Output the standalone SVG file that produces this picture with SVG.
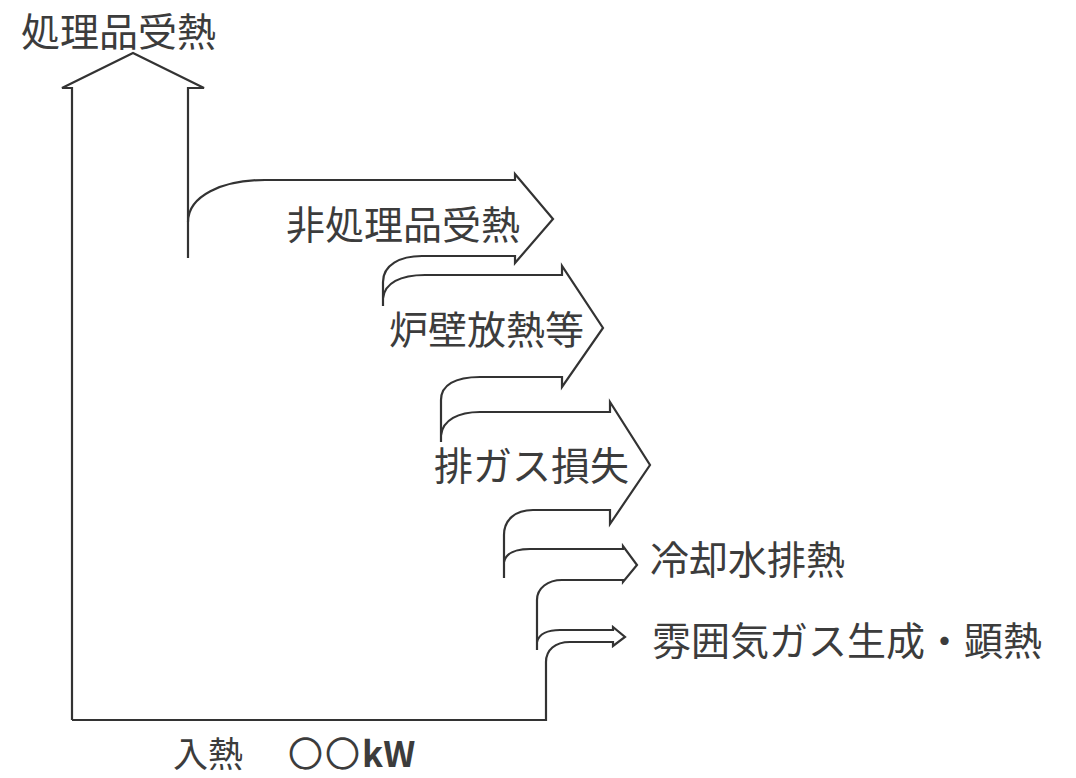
<svg xmlns="http://www.w3.org/2000/svg" width="1076" height="778" viewBox="0 0 1076 778">
<style>
.ln{fill:none;stroke:#333;stroke-width:2.2;stroke-linejoin:miter;stroke-linecap:butt}
.t{font-family:"Noto Sans CJK JP","Noto Sans",sans-serif;font-size:39px;fill:#3c3c3c}
.tb{font-family:"Noto Sans CJK JP","Noto Sans",sans-serif;font-size:35px;fill:#3c3c3c}
</style>
<rect width="1076" height="778" fill="#fff"/>
<g id="main-flow">
<path class="ln" d="M72,720 L72,88 L62,88 L133,53 L204,88 L188,88 L188,258"/>
<text class="t" x="21" y="46">処理品受熱</text>
</g>
<g id="branch-non-product">
<path class="ln" d="M188,222 C188,196 222,180 265,180 L515,180 L515,174 L553,219 L515,263 L515,256 L422,256 C400,256 383,265 383,282 L383,306"/>
<text class="t" x="286" y="239">非処理品受熱</text>
</g>
<g id="branch-wall">
<path class="ln" d="M383,298 C385,283 400,275 425,275 L562,275 L562,266 L603,328 L562,387 L562,377 L480,377 C455,377 441,385 441,400 L441,442"/>
<text class="t" x="389" y="344">炉壁放熱等</text>
</g>
<g id="branch-exhaust">
<path class="ln" d="M441,435 C443,420 458,412 480,412 L610,412 L610,402 L650,465 L610,524 L610,510 L533,510 C515,510 504,520 504,535 L504,578"/>
<text class="t" x="434" y="480">排ガス損失</text>
</g>
<g id="branch-cooling">
<path class="ln" d="M504,562 C506,553 515,549 530,549 L623,549 L623,546 L637,565 L623,582 L623,580 L562,580 C548,580 537,588 537,600 L537,650"/>
<text class="t" x="650" y="574">冷却水排熱</text>
</g>
<g id="branch-atmosphere">
<path class="ln" d="M537,642 C539,634 548,630 560,630 L613,630 L613,627 L625,637 L613,646 L613,642 L570,642 C555,642 546,650 546,662 L546,720 L72,720"/>
<text class="t" x="652" y="655">雰囲気ガス生成・顕熱</text>
</g>
<g id="input">
<text class="tb" x="173" y="767">入熱<tspan x="288" letter-spacing="2">〇〇</tspan><tspan font-weight="bold">kW</tspan></text>
</g>
<g id="connectors"></g>
</svg>
